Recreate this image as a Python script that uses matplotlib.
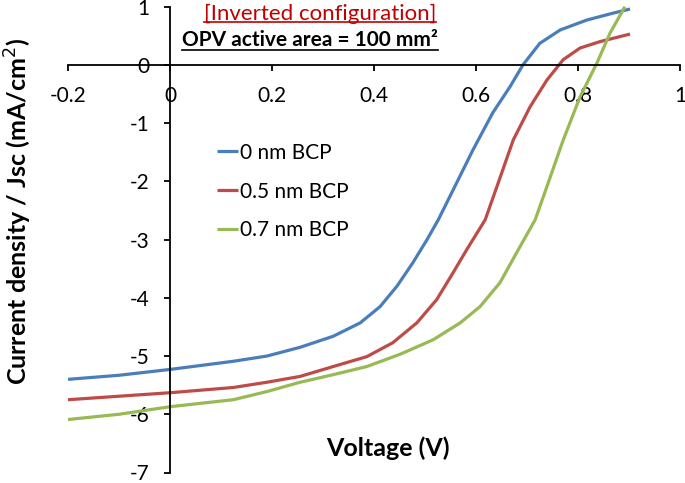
import matplotlib
matplotlib.use("Agg")
import matplotlib.pyplot as plt
from matplotlib.lines import Line2D

plt.rcParams['font.family'] = ['Lato', 'DejaVu Sans']

# Data
v_blue = [-0.2, -0.1, 0.0, 0.124, 0.19, 0.255, 0.32, 0.373, 0.412, 0.445, 0.476, 0.504, 0.526,
          0.555, 0.594, 0.633, 0.667, 0.692, 0.725, 0.765, 0.817, 0.869, 0.902]
j_blue = [-5.40, -5.33, -5.23, -5.09, -5.00, -4.85, -4.66, -4.43, -4.15, -3.80, -3.40, -3.00, -2.66,
          -2.15, -1.46, -0.82, -0.37, 0.00, 0.37, 0.60, 0.77, 0.89, 0.96]

v_red = [-0.2, -0.1, 0.0, 0.124, 0.19, 0.255, 0.32, 0.386, 0.437, 0.484, 0.523, 0.555, 0.582,
         0.618, 0.641, 0.673, 0.706, 0.739, 0.771, 0.804, 0.843, 0.902]
j_red = [-5.75, -5.69, -5.63, -5.54, -5.45, -5.35, -5.18, -5.01, -4.77, -4.43, -4.03, -3.57, -3.17,
         -2.66, -2.09, -1.29, -0.72, -0.26, 0.09, 0.29, 0.40, 0.53]

v_green = [-0.2, -0.1, 0.0, 0.124, 0.19, 0.255, 0.32, 0.386, 0.451, 0.516, 0.569, 0.608, 0.647,
           0.68, 0.716, 0.739, 0.771, 0.804, 0.837, 0.863, 0.892]
j_green = [-6.09, -6.00, -5.87, -5.75, -5.61, -5.45, -5.32, -5.18, -4.97, -4.72, -4.43, -4.15, -3.74,
           -3.22, -2.66, -2.09, -1.29, -0.55, 0.03, 0.55, 1.00]

series_labels = ['0 nm BCP', '0.5 nm BCP', '0.7 nm BCP']
series_colors = ['#4A7EBB', '#BE4B48', '#98B954']

x_ticks = [-0.2, 0, 0.2, 0.4, 0.6, 0.8, 1]
x_tick_labels = ['-0.2', '0', '0.2', '0.4', '0.6', '0.8', '1']
y_ticks = [1, 0, -1, -2, -3, -4, -5, -6, -7]
y_tick_labels = ['1', '0', '-1', '-2', '-3', '-4', '-5', '-6', '-7']

W, H = 685, 483
fig = plt.figure(figsize=(W / 100, H / 100), dpi=100)
ax = fig.add_axes([68 / W, 1 - 472.5 / H, (680 - 68) / W, (472.5 - 6.7) / H])

for v, j, lab, col in zip([v_blue, v_red, v_green], [j_blue, j_red, j_green], series_labels, series_colors):
    ax.plot(v, j, color=col, lw=2.3, label=lab, clip_on=False,
            solid_capstyle='butt', solid_joinstyle='round')

ax.set_xlim(-0.2, 1)
ax.set_ylim(-7, 1)
ax.spines['left'].set_position(('data', 0))
ax.spines['bottom'].set_position(('data', 0))
ax.spines['top'].set_visible(False)
ax.spines['right'].set_visible(False)
for s in ('left', 'bottom'):
    ax.spines[s].set_linewidth(1.3)
ax.set_xticks(x_ticks)
ax.set_xticklabels(x_tick_labels)
ax.set_yticks(y_ticks)
ax.set_yticklabels(y_tick_labels)
ax.tick_params(axis='both', direction='out', length=4, width=1.3, labelsize=15)
ax.tick_params(axis='x', pad=11)
ax.tick_params(axis='y', pad=11)

leg = ax.legend(frameon=False, fontsize=15, handlelength=1.0, handletextpad=0.1,
                labelspacing=0.9, loc='upper left',
                bbox_to_anchor=(198 / W, 1 - 124 / H), bbox_transform=fig.transFigure)

fig.text(18 / W, 1 - 212 / H, 'Current density / Jsc (mA/cm$^2$)', rotation=90,
         ha='center', va='center', fontsize=18, fontweight='bold')
fig.text(388 / W, 1 - 448 / H, 'Voltage (V)', ha='center', va='center',
         fontsize=18, fontweight='bold')

t1 = fig.text(320 / W, 1 - 20 / H, '[Inverted configuration]', ha='center', va='baseline',
              fontsize=16, color='#C00000')
t2 = fig.text(310 / W, 1 - 46 / H, 'OPV active area = 100 mm²', ha='center', va='baseline',
              fontsize=15, fontweight='bold', color='black')

fig.canvas.draw()
r = fig.canvas.get_renderer()
for t, ypix, col in [(t1, 22, '#C00000'), (t2, 50, 'black')]:
    bb = t.get_window_extent(r)
    fig.add_artist(Line2D([bb.x0 / W, bb.x1 / W], [1 - ypix / H, 1 - ypix / H],
                          transform=fig.transFigure, color=col, lw=1.2))

fig.savefig('out.png', dpi=100)
